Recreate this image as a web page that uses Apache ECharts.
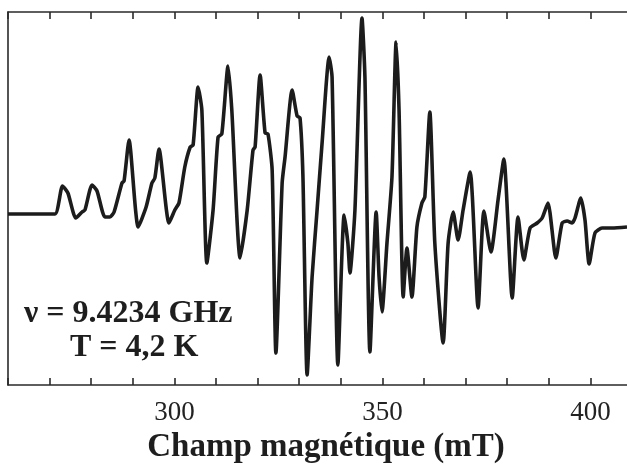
<!DOCTYPE html>
<html>
<head>
<meta charset="utf-8">
<script src="https://cdn.jsdelivr.net/npm/echarts@6/dist/echarts.min.js"></script>
<style>
  html, body { margin: 0; padding: 0; background: #fff; }
  #chart { width: 627px; height: 467px; }
</style>
</head>
<body>
<div id="chart"></div>
<script>
// Spectre RPE : champ (mT) et signal (unités arbitraires, ligne de base ~ 0)
const field = [
  260.0, 262.9, 266.5, 271.3, 273.1, 274.4, 276.3, 277.8, 278.5, 280.2,
  281.4, 283.3, 284.5, 285.5, 287.4, 287.9, 289.1, 291.3, 293.2, 294.6,
  295.3, 296.3, 298.7, 300.1, 301.1, 302.5, 303.8, 304.5, 305.7, 306.6,
  307.8, 309.3, 310.5, 311.4, 312.9, 313.8, 315.8, 317.5, 318.9, 319.4,
  320.6, 321.8, 322.5, 323.5, 324.4, 325.9, 326.6, 328.3, 329.5, 330.2,
  330.9, 331.9, 333.1, 334.3, 335.5, 337.2, 337.9, 339.3, 340.8, 341.7,
  342.2, 343.4, 345.1, 345.8, 347.0, 348.5, 349.2, 349.9, 351.1, 352.3,
  353.3, 354.0, 355.0, 355.9, 357.1, 358.3, 359.5, 360.2, 361.4, 362.6,
  364.6, 365.8, 367.0, 368.2, 369.4, 371.1, 373.0, 374.4, 376.1, 377.8,
  379.2, 381.2, 382.6, 384.0, 385.5, 387.2, 388.4, 389.8, 391.7, 393.2,
  394.4, 395.6, 396.3, 397.7, 398.7, 399.7, 401.1, 402.8, 405.2, 408.8
];
const signal = [
  -1, -1, -1, -1, 27, 20, -5, 1, 3, 28,
  22, -4, -4, 1, 30, 32, 73, -14, 6, 30,
  35, 64, -10, 3, 10, 46, 66, 68, 126, 103,
  -50, 3, 76, 79, 147, 103, -45, 3, 63, 66,
  138, 80, 79, 43, -140, 30, 56, 123, 97, 95,
  36, -162, -64, 3, 70, 156, 136, -152, -2, -30,
  -60, 3, 195, 136, -139, 1, -64, -99, -30, 36,
  171, 103, -84, -35, -84, -14, 10, 16, 101, -30,
  -130, -30, 1, -27, 3, 41, -95, 2, -39, 13,
  54, -85, -4, -47, -15, -10, -5, 10, -45, -10,
  -8, -10, -5, 15, -7, -51, -20, -15, -15, -14
];
const xTicks = [300, 350, 400];
const labelLines = ['\u03BD = 9.4234 GHz', 'T = 4,2 K'];

const chart = echarts.init(document.getElementById('chart'), null, { renderer: 'canvas' });

const frame = { color: '#2a2a2a', width: 1.6 };

chart.setOption({
  backgroundColor: '#ffffff',
  animation: false,
  grid: { left: 8, top: 12, width: 624, bottom: 82, outerBoundsMode: 'none', containLabel: false },
  xAxis: [
    {
      type: 'value',
      position: 'bottom',
      min: 260,
      max: 410,
      interval: 10,
      name: 'Champ magnétique (mT)',
      nameLocation: 'middle',
      nameGap: 46,
      nameTextStyle: {
        fontFamily: 'Liberation Serif',
        fontWeight: 'bold',
        fontSize: 33,
        color: '#1e1e1e',
        padding: [0, 0, 0, 12]
      },
      axisLine: { onZero: false, lineStyle: frame },
      axisTick: { inside: true, length: 7, lineStyle: frame },
      axisLabel: {
        margin: 14,
        fontFamily: 'Liberation Serif',
        fontSize: 27,
        color: '#222',
        formatter: v => (xTicks.includes(v) ? String(v) : '')
      },
      splitLine: { show: false }
    },
    {
      type: 'value',
      position: 'top',
      min: 260,
      max: 410,
      interval: 10,
      axisLine: { onZero: false, lineStyle: frame },
      axisTick: { inside: true, length: 7, lineStyle: frame },
      axisLabel: { show: false },
      splitLine: { show: false }
    }
  ],
  yAxis: {
    type: 'value',
    min: -172,
    max: 201,
    axisLine: { show: true, onZero: false, lineStyle: frame },
    axisTick: { show: false },
    axisLabel: { show: false },
    splitLine: { show: false }
  },
  graphic: [
    {
      type: 'text',
      left: 24,
      top: 298,
      style: {
        text: labelLines[0],
        font: 'bold 32px "Liberation Serif"',
        fill: '#1e1e1e'
      }
    },
    {
      type: 'text',
      left: 70,
      top: 332,
      style: {
        text: labelLines[1],
        font: 'bold 32px "Liberation Serif"',
        fill: '#1e1e1e'
      }
    }
  ],
  series: [
    {
      type: 'line',
      xAxisIndex: 0,
      data: field.map((f, i) => [f, signal[i]]),
      showSymbol: false,
      smooth: 0.2,
      lineStyle: { color: '#1c1c1c', width: 3.6, join: 'round' }
    }
  ]
});
</script>
</body>
</html>
